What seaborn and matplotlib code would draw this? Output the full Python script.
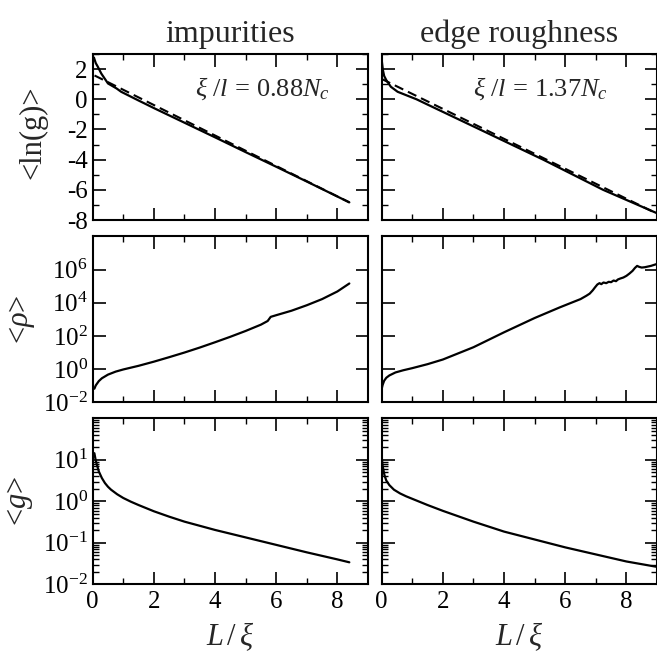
import math
import matplotlib
matplotlib.use("Agg")
import matplotlib.pyplot as plt
import seaborn as sns
import pandas as pd
from matplotlib.ticker import MultipleLocator, FixedLocator, NullLocator, LogLocator, FuncFormatter, NullFormatter

# ---- data: L/xi versus averaged transport quantities ----
# <ln g>, impurities
L_lng_imp = [0.04, 0.10, 0.17, 0.28, 0.50, 0.78, 0.93, 1.50, 2.02, 3.00, 4.00, 5.00, 6.00, 7.00, 8.39]
lng_imp = [2.77, 2.40, 2.15, 1.71, 1.05, 0.72, 0.50, -0.08, -0.60, -1.55, -2.52, -3.50, -4.47, -5.45, -6.83]
# linear fit, impurities
L_fit_imp = [0.06, 8.39]
lng_fit_imp = [1.58, -6.83]

# <ln g>, edge roughness
L_lng_edge = [0.00, 0.02, 0.04, 0.08, 0.15, 0.30, 0.52, 1.14, 1.50, 3.21, 5.28, 7.24, 9.00]
lng_edge = [2.60, 2.25, 1.93, 1.55, 1.27, 0.83, 0.50, 0.00, -0.35, -2.00, -4.00, -6.00, -7.55]
# linear fit, edge roughness
L_fit_edge = [0.00, 9.00]
lng_fit_edge = [1.35, -7.58]

# log10 <rho>, impurities
L_rho_imp = [0.055, 0.10, 0.20, 0.30, 0.50, 0.75, 1.00, 1.50, 2.00, 2.50, 3.00, 3.50, 4.00, 4.50, 5.00, 5.50,
             5.72, 5.82, 6.00, 6.50, 7.00, 7.50, 8.00, 8.39]
logrho_imp = [-1.18, -0.98, -0.72, -0.55, -0.33, -0.15, -0.02, 0.20, 0.45, 0.72, 1.00, 1.30, 1.62, 1.95, 2.30, 2.68,
              2.90, 3.15, 3.25, 3.52, 3.85, 4.22, 4.68, 5.16]

# log10 <rho>, edge roughness
L_rho_edge = [0.00, 0.03, 0.08, 0.15, 0.25, 0.45, 0.70, 1.00, 1.50, 2.00, 3.00, 4.00, 5.00, 5.82, 6.20, 6.50, 6.69,
              6.80, 6.90, 6.97, 7.05, 7.12, 7.18, 7.25, 7.34, 7.42, 7.50, 7.58, 7.66, 7.72, 7.80, 7.90, 8.00, 8.10,
              8.20, 8.28, 8.35, 8.42, 8.50, 8.60, 8.70, 8.80, 8.97]
logrho_edge = [-1.18, -0.95, -0.70, -0.52, -0.38, -0.20, -0.07, 0.06, 0.30, 0.58, 1.32, 2.22, 3.08, 3.72, 4.00, 4.22, 4.42,
               4.55, 4.75, 4.92, 5.10, 5.18, 5.12, 5.22, 5.18, 5.26, 5.24, 5.34, 5.30, 5.40, 5.46, 5.52, 5.62, 5.76,
               5.92, 6.10, 6.22, 6.16, 6.12, 6.14, 6.18, 6.22, 6.32]

# log10 <g>, impurities
L_g_imp = [0.055, 0.10, 0.20, 0.30, 0.40, 0.50, 0.60, 0.80, 1.00, 1.25, 1.50, 2.00, 2.50, 3.00, 4.00, 5.00, 6.00,
           7.00, 8.00, 8.39]
logg_imp = [1.16, 0.98, 0.72, 0.56, 0.44, 0.35, 0.28, 0.17, 0.08, -0.01, -0.09, -0.24, -0.37, -0.49, -0.69, -0.87,
            -1.05, -1.23, -1.40, -1.47]

# log10 <g>, edge roughness
L_g_edge = [0.00, 0.03, 0.09, 0.15, 0.25, 0.40, 0.60, 0.80, 1.00, 1.50, 2.00, 3.00, 4.00, 5.00, 6.00, 7.00, 8.00, 9.00]
logg_edge = [1.07, 0.85, 0.63, 0.50, 0.39, 0.28, 0.19, 0.12, 0.06, -0.09, -0.23, -0.49, -0.73, -0.92, -1.11, -1.28,
             -1.45, -1.58]

titles = ["impurities", "edge roughness"]
notes = [r"$\xi\ /l\,=\,0.88N_c$", r"$\xi\ /l\,=\,1.37N_c$"]
x_ticks = [0, 2, 4, 6, 8]
lng_ticks = [-8, -6, -4, -2, 0, 2]
rho_ticks = [1e-2, 1e0, 1e2, 1e4, 1e6, 1e8]
g_ticks = [1e-2, 1e-1, 1e0, 1e1, 1e2]

sns.set_theme(style="ticks")
plt.rcParams.update({
    "font.family": ["Liberation Serif", "DejaVu Serif"],
    "mathtext.fontset": "custom",
    "mathtext.rm": "Liberation Serif",
    "mathtext.it": "Liberation Serif:italic",
    "mathtext.bf": "Liberation Serif:bold",
    "axes.unicode_minus": False,
    "axes.linewidth": 1.5,
    "axes.edgecolor": "black",
    "xtick.color": "black",
    "ytick.color": "black",
    "xtick.direction": "in",
    "ytick.direction": "in",
    "xtick.top": True,
    "ytick.right": True,
    "xtick.major.size": 9,
    "ytick.major.size": 9,
    "xtick.minor.size": 4.5,
    "ytick.minor.size": 4.5,
    "xtick.major.width": 1.2,
    "ytick.major.width": 1.2,
    "xtick.minor.width": 1.0,
    "ytick.minor.width": 1.0,
    "xtick.major.pad": 5,
    "xtick.labelsize": 18,
    "ytick.labelsize": 18,
})

fig = plt.figure(figsize=(6.57, 6.56), dpi=100)
lefts = [0.1411, 0.581]
width = 0.419
bottoms = [0.6646, 0.3867, 0.1093]
height = 0.253


def power_label(top_value):
    def fmt(v, p):
        if v >= top_value:
            return ""
        return r"$10^{%d}$" % round(math.log10(v))
    return FuncFormatter(fmt)


series = [
    [(L_lng_imp, lng_imp, L_fit_imp, lng_fit_imp), (L_rho_imp, logrho_imp), (L_g_imp, logg_imp)],
    [(L_lng_edge, lng_edge, L_fit_edge, lng_fit_edge), (L_rho_edge, logrho_edge), (L_g_edge, logg_edge)],
]

for col in range(2):
    axes = [fig.add_axes([lefts[col], b, width, height]) for b in bottoms]
    ax_top, ax_mid, ax_bot = axes

    # <ln g> with its linear fit
    Lx, ly, Lf, lf = series[col][0]
    sns.lineplot(x=Lf, y=lf, ax=ax_top, color="black", lw=1.5, sort=False, estimator=None,
                 linestyle=(0, (4.5, 2.5)))
    sns.lineplot(x=Lx, y=ly, ax=ax_top, color="black", lw=1.6, sort=False, estimator=None)
    ax_top.set_ylim(-8, 3)
    ax_top.yaxis.set_major_locator(FixedLocator(lng_ticks))
    ax_top.yaxis.set_minor_locator(MultipleLocator(1))
    ax_top.set_title(titles[col], fontsize=23, pad=9)
    ax_top.text(0.37 if col == 0 else 0.33, 0.79, notes[col], transform=ax_top.transAxes,
                fontsize=19, ha="left", va="center")

    # <rho>
    Lr, lr = series[col][1]
    df = pd.DataFrame({"L": Lr, "rho": [10 ** v for v in lr]})
    sns.lineplot(data=df, x="L", y="rho", ax=ax_mid, color="black", lw=1.6, sort=False, estimator=None)
    ax_mid.set_yscale("log")
    ax_mid.set_ylim(1e-2, 1e8)
    ax_mid.yaxis.set_major_locator(FixedLocator(rho_ticks))
    ax_mid.yaxis.set_minor_locator(NullLocator())
    ax_mid.yaxis.set_major_formatter(power_label(1e8))

    # <g>
    Lg, lgv = series[col][2]
    df = pd.DataFrame({"L": Lg, "g": [10 ** v for v in lgv]})
    sns.lineplot(data=df, x="L", y="g", ax=ax_bot, color="black", lw=1.6, sort=False, estimator=None)
    ax_bot.set_yscale("log")
    ax_bot.set_ylim(1e-2, 1e2)
    ax_bot.yaxis.set_major_locator(FixedLocator(g_ticks))
    ax_bot.yaxis.set_minor_locator(LogLocator(base=10, subs=range(2, 10), numticks=20))
    ax_bot.yaxis.set_minor_formatter(NullFormatter())
    ax_bot.yaxis.set_major_formatter(power_label(1e2))

    for ax in axes:
        ax.set_xlim(0, 9)
        ax.xaxis.set_major_locator(FixedLocator(x_ticks))
        ax.xaxis.set_minor_locator(FixedLocator([1, 3, 5, 7]))
        ax.tick_params(which="both", top=True, right=True, direction="in")
        ax.set_xlabel("")
        ax.set_ylabel("")
        if col == 1:
            ax.tick_params(labelleft=False)
        for s in ax.spines.values():
            s.set_linewidth(1.5)
    ax_top.tick_params(labelbottom=False)
    ax_mid.tick_params(labelbottom=False)
    ax_bot.set_xlabel(r"$L\,/\,\xi$", fontsize=22, labelpad=5)

    if col == 0:
        ax_top.set_ylabel("<ln(g)>", fontsize=22)
        ax_top.yaxis.set_label_coords(-0.163, 0.53)
        ax_mid.set_ylabel(r"<$\rho$>", fontsize=22)
        ax_mid.yaxis.set_label_coords(-0.203, 0.5)
        ax_bot.set_ylabel(r"<$g$>", fontsize=22)
        ax_bot.yaxis.set_label_coords(-0.21, 0.5)

fig.savefig("out.png", dpi=100)
